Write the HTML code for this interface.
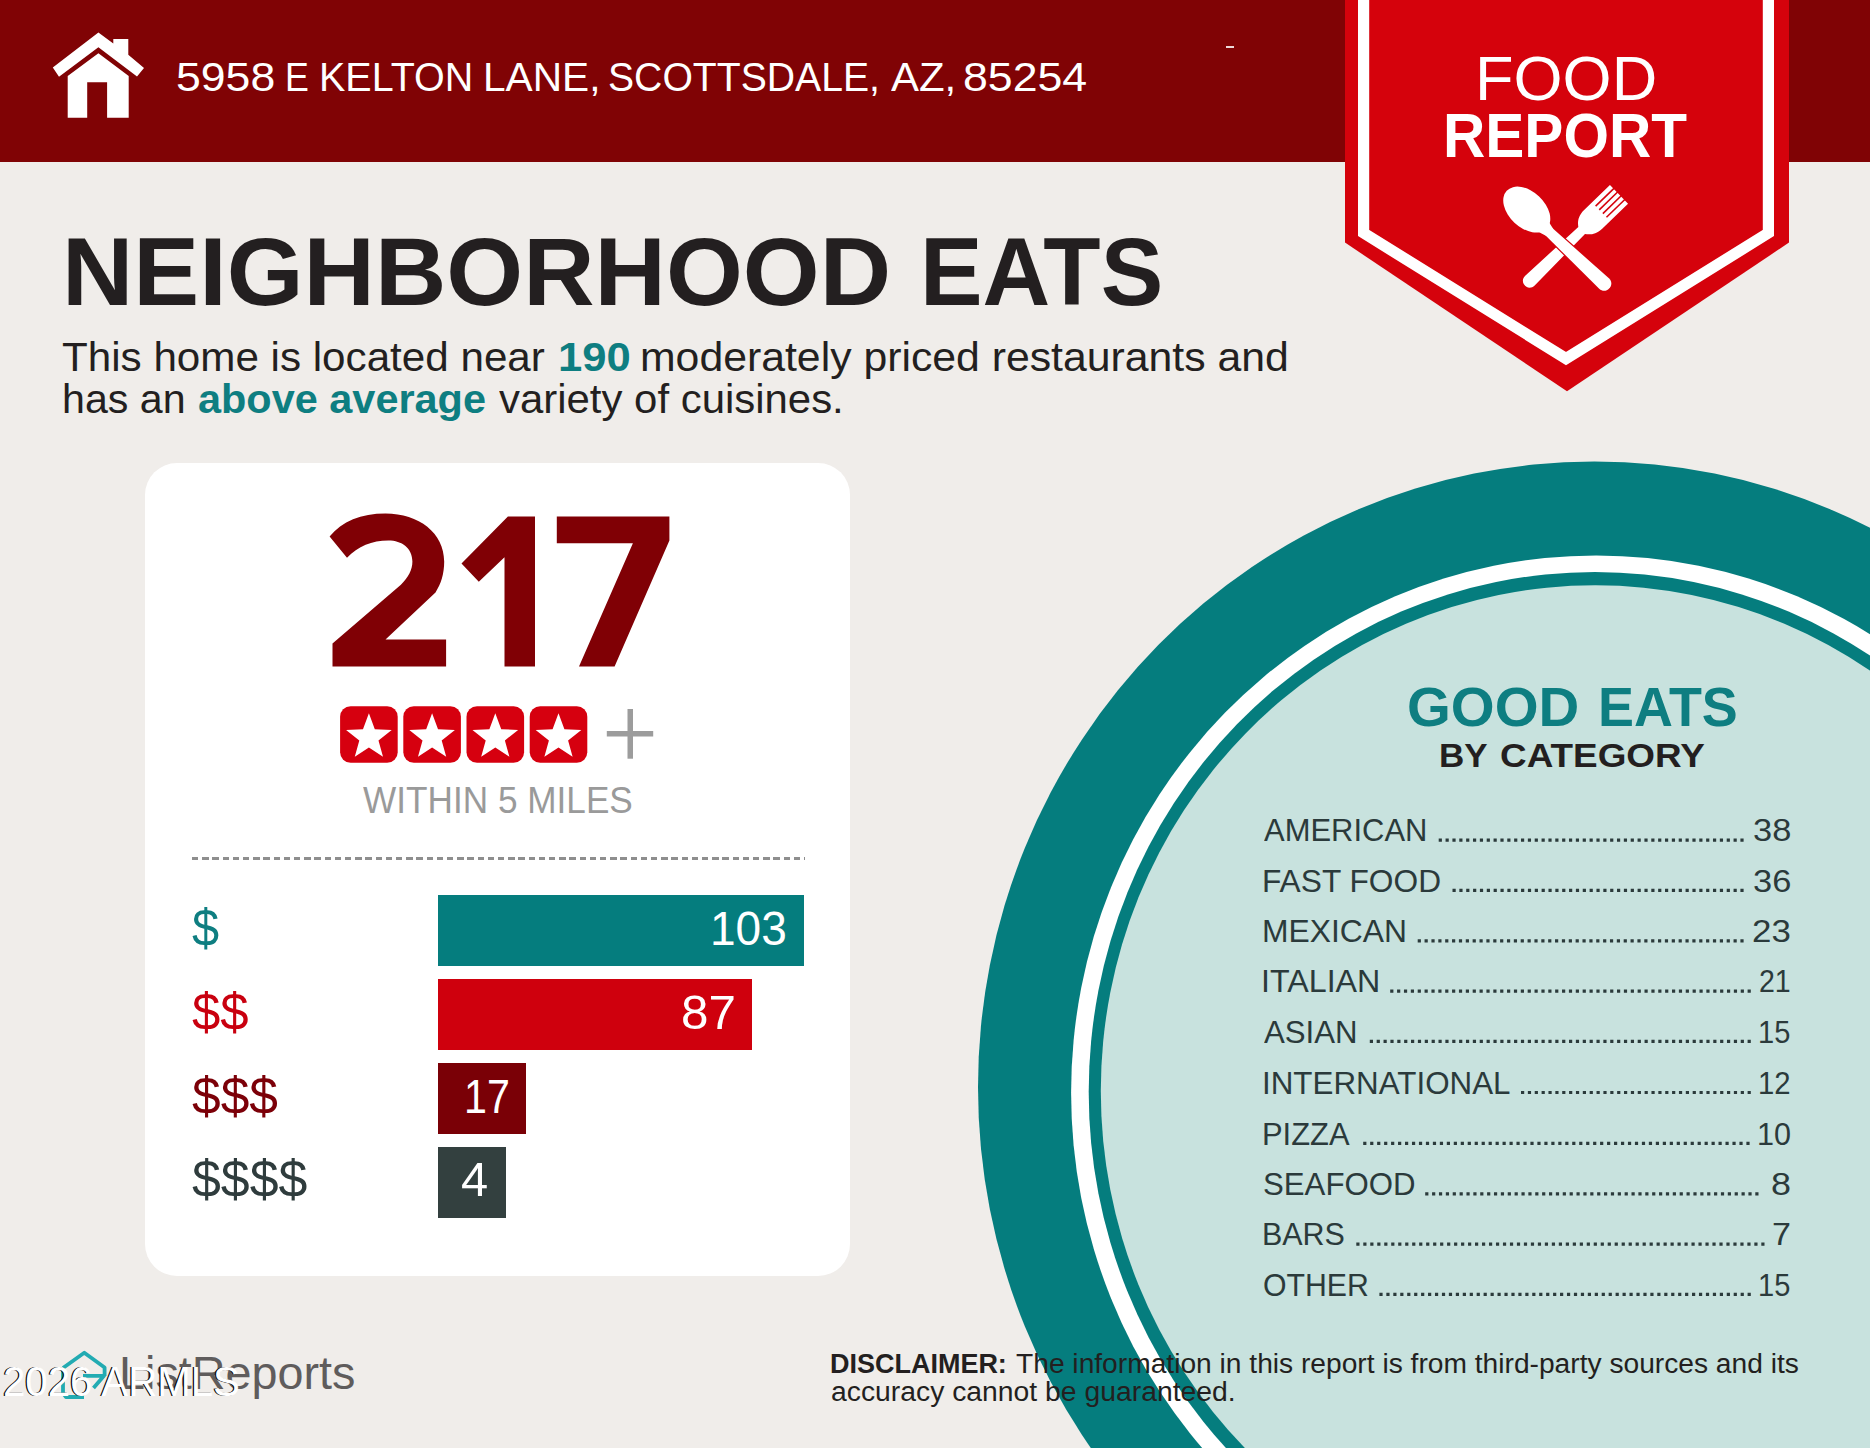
<!DOCTYPE html><html><head><meta charset="utf-8"><style>
html,body{margin:0;padding:0;}
body{width:1870px;height:1448px;overflow:hidden;position:relative;background:#F0EDEA;font-family:"Liberation Sans", sans-serif;}
.t{position:absolute;white-space:pre;transform-origin:0 0;}
.a{position:absolute;}
</style></head><body>

<div class="a" style="left:0;top:0;width:1870px;height:161.6px;background:#800305"></div>
<div class="a" style="left:1226px;top:46.3px;width:8px;height:1.5px;background:#fff;opacity:.85"></div>
<svg class="a" style="left:0;top:0" width="200" height="162" viewBox="0 0 200 162">
<polygon fill="#fff" points="98.4,32.4 113.3,43.6 113.3,39 128.3,39 128.3,54.8 144,68 137,76.4 98.4,47.3 59,76.8 52.8,67.6"/>
<polygon fill="#fff" points="98.4,53.2 128.7,76 128.7,117.8 107.1,117.8 107.1,82.2 87.2,82.2 87.2,117.8 67.7,117.8 67.7,76"/>
</svg>
<svg class="a" style="left:0;top:0" width="1870" height="1448" viewBox="0 0 1870 1448">
<ellipse cx="1594.3" cy="1087.2" rx="616.3" ry="625.6" fill="#057D7E"/>
<ellipse cx="1596.2" cy="1092.8" rx="525.1" ry="537.4" fill="#fff"/>
<ellipse cx="1594.9" cy="1092" rx="506.2" ry="520" fill="#057D7E"/>
<ellipse cx="1595.2" cy="1091.1" rx="494.4" ry="505.8" fill="#C8E2DE"/>
</svg>
<svg class="a" style="left:0;top:0" width="1870" height="400" viewBox="0 0 1870 400">
<polygon fill="#D5020C" points="1345,0 1789,0 1789,242.6 1567,391.2 1345,242.6"/>
<polyline fill="none" stroke="#fff" stroke-width="11.2" stroke-linejoin="miter" points="1363.6,0 1363.6,233 1566,358.6 1768.4,233 1768.4,0"/>
</svg>
<svg class="a" style="left:1480px;top:170px" width="170" height="130" viewBox="1480 170 170 130">
<g transform="translate(1619,194.3) rotate(45.9)">
<path fill="#fff" d="M-13,0 L13,0 L13,36 C13,46 7.5,50 4.8,52 L6.8,124 C6.8,133.5 -6.8,133.5 -6.8,124 L-4.8,52 C-7.5,50 -13,46 -13,36 Z"/>
<rect x="-8.60" y="-2" width="1.6" height="27" fill="#D5020C"/><rect x="-3.40" y="-2" width="1.6" height="27" fill="#D5020C"/><rect x="1.80" y="-2" width="1.6" height="27" fill="#D5020C"/><rect x="7.00" y="-2" width="1.6" height="27" fill="#D5020C"/>
</g>
<g transform="translate(1506.4,191.8) rotate(-46.8)" fill="#fff">
<path stroke="#D5020C" stroke-width="2.4" paint-order="stroke" d="M-4.8,50 L-7.1,134 C-7.1,143.5 7.1,143.5 7.1,134 L4.8,50 Z"/>
<ellipse cx="1" cy="27" rx="18" ry="27.5"/>
<path d="M-7.5,50 L7.5,50 L4.8,60 L-4.8,60 Z"/>
</g></svg>
<div class="t" style="left:176.02px;top:57.13px;font-size:40.84px;line-height:40.84px;font-weight:normal;color:#fff;transform:scaleX(1.0921);">5958</div>
<div class="t" style="left:285.36px;top:57.13px;font-size:40.84px;line-height:40.84px;font-weight:normal;color:#fff;transform:scaleX(0.8764);">E</div>
<div class="t" style="left:319.46px;top:57.13px;font-size:40.84px;line-height:40.84px;font-weight:normal;color:#fff;transform:scaleX(0.9667);">KELTON</div>
<div class="t" style="left:483.37px;top:57.13px;font-size:40.84px;line-height:40.84px;font-weight:normal;color:#fff;transform:scaleX(0.9954);">LANE,</div>
<div class="t" style="left:608.24px;top:57.13px;font-size:40.84px;line-height:40.84px;font-weight:normal;color:#fff;transform:scaleX(0.9591);">SCOTTSDALE,</div>
<div class="t" style="left:890.72px;top:57.13px;font-size:40.84px;line-height:40.84px;font-weight:normal;color:#fff;transform:scaleX(1.0269);">AZ,</div>
<div class="t" style="left:963.08px;top:57.13px;font-size:40.84px;line-height:40.84px;font-weight:normal;color:#fff;transform:scaleX(1.0936);">85254</div>
<div class="t" style="left:1474.83px;top:47.09px;font-size:62.50px;line-height:62.50px;font-weight:normal;color:#fff;transform:scaleX(1.0091);">FOOD</div>
<div class="t" style="left:1442.58px;top:104.86px;font-size:62.06px;line-height:62.06px;font-weight:bold;color:#fff;transform:scaleX(0.9437);">REPORT</div>
<div class="t" style="left:61.98px;top:223.01px;font-size:97.09px;line-height:97.09px;font-weight:bold;color:#231F20;transform:scaleX(1.0180);">NEIGHBORHOOD</div>
<div class="t" style="left:919.61px;top:223.01px;font-size:97.09px;line-height:97.09px;font-weight:bold;color:#231F20;transform:scaleX(0.9662);">EATS</div>
<div class="t" style="left:62.17px;top:337.94px;font-size:40.12px;line-height:40.12px;font-weight:normal;color:#231F20;transform:scaleX(1.0513);">This home is located near</div>
<div class="t" style="left:557.65px;top:337.94px;font-size:40.12px;line-height:40.12px;font-weight:bold;color:#0E7E81;transform:scaleX(1.0870);">190</div>
<div class="t" style="left:640.48px;top:337.94px;font-size:40.12px;line-height:40.12px;font-weight:normal;color:#231F20;transform:scaleX(1.0660);">moderately priced restaurants and</div>
<div class="t" style="left:62.06px;top:380.24px;font-size:40.12px;line-height:40.12px;font-weight:normal;color:#231F20;transform:scaleX(1.0265);">has an</div>
<div class="t" style="left:197.60px;top:380.24px;font-size:40.12px;line-height:40.12px;font-weight:bold;color:#0E7E81;transform:scaleX(1.0332);">above average</div>
<div class="t" style="left:498.77px;top:380.24px;font-size:40.12px;line-height:40.12px;font-weight:normal;color:#231F20;transform:scaleX(1.0450);">variety of cuisines.</div>
<div class="a" style="left:145px;top:463px;width:705px;height:813px;background:#fff;border-radius:32px"></div>
<svg class="a" style="left:0;top:0" width="870" height="800" viewBox="0 0 870 800"><g fill="#800005">
<path d="M329.6,536.6 C342,521 361,513.5 385.5,513.5 C419,513.5 444.2,533 444.2,561.6 C444.2,574 441,584 435.5,592.4 L385.5,639.6 L446.1,639.6 L446.1,666.5 L332.5,666.5 L332.5,643.4 L400.9,584.7 C408,578 412.4,570 412.4,561.6 C412.4,548 402,540.4 388.3,540.4 C372,540.4 358,546 347,557.8 Z"/>
<polygon points="507.9,516.4 535,516.4 535,666.5 504.5,666.5 504.5,557.2 478.8,581.8 461.5,563.5"/>
<polygon points="556.8,516.4 669.4,516.4 669.4,540.4 614.6,666.5 579,666.5 632.9,543.3 556.8,543.3"/>
</g></svg>
<svg class="a" style="left:0;top:0" width="870" height="800" viewBox="0 0 870 800"><rect x="340.1" y="706.2" width="57.6" height="56.6" rx="10.5" fill="#D6000F"/><polygon fill="#fff" points="368.90,713.30 374.82,729.15 391.73,729.88 378.49,740.41 383.01,756.72 368.90,747.38 354.79,756.72 359.31,740.41 346.07,729.88 362.98,729.15"/><rect x="403.3" y="706.2" width="57.6" height="56.6" rx="10.5" fill="#D6000F"/><polygon fill="#fff" points="432.10,713.30 438.02,729.15 454.93,729.88 441.69,740.41 446.21,756.72 432.10,747.38 417.99,756.72 422.51,740.41 409.27,729.88 426.18,729.15"/><rect x="466.5" y="706.2" width="57.6" height="56.6" rx="10.5" fill="#D6000F"/><polygon fill="#fff" points="495.30,713.30 501.22,729.15 518.13,729.88 504.89,740.41 509.41,756.72 495.30,747.38 481.19,756.72 485.71,740.41 472.47,729.88 489.38,729.15"/><rect x="529.7" y="706.2" width="57.6" height="56.6" rx="10.5" fill="#D6000F"/><polygon fill="#fff" points="558.50,713.30 564.42,729.15 581.33,729.88 568.09,740.41 572.61,756.72 558.50,747.38 544.39,756.72 548.91,740.41 535.67,729.88 552.58,729.15"/><rect x="627.5" y="709" width="5.5" height="49.7" fill="#9C9C9C"/><rect x="606.8" y="731" width="46.4" height="5.5" fill="#9C9C9C"/></svg>
<div class="t" style="left:363.36px;top:782.38px;font-size:37.35px;line-height:37.35px;font-weight:normal;color:#9A9A9A;transform:scaleX(0.9428);">WITHIN 5 MILES</div>
<div class="a" style="left:191.5px;top:857px;width:613.2px;height:2.7px;background:repeating-linear-gradient(90deg,#8E8E8E 0 6.4px,transparent 6.4px 10.2px)"></div>
<div class="a" style="left:437.5px;top:895.3px;width:366.5px;height:71px;background:#057D7E"></div>
<div class="t" style="left:710.20px;top:905.01px;font-size:47.24px;line-height:47.24px;font-weight:normal;color:#fff;transform:scaleX(0.9750);">103</div>
<div class="a" style="left:437.5px;top:979.2px;width:314.5px;height:71px;background:#CF000D"></div>
<div class="t" style="left:681.08px;top:988.91px;font-size:47.24px;line-height:47.24px;font-weight:normal;color:#fff;transform:scaleX(1.0450);">87</div>
<div class="a" style="left:437.5px;top:1063px;width:88.2px;height:71px;background:#7A0006"></div>
<div class="t" style="left:464.47px;top:1072.71px;font-size:47.24px;line-height:47.24px;font-weight:normal;color:#fff;transform:scaleX(0.8717);">17</div>
<div class="a" style="left:437.5px;top:1146.6px;width:68.0px;height:71px;background:#33403F"></div>
<div class="t" style="left:461.38px;top:1156.31px;font-size:47.24px;line-height:47.24px;font-weight:normal;color:#fff;transform:scaleX(1.0333);">4</div>
<div class="t" style="left:192.36px;top:902.03px;font-size:52.29px;line-height:52.29px;font-weight:normal;color:#0E7E81;transform:scaleX(0.9328);">$</div>
<div class="t" style="left:192.34px;top:985.83px;font-size:52.29px;line-height:52.29px;font-weight:normal;color:#C9000F;transform:scaleX(0.9730);">$$</div>
<div class="t" style="left:192.33px;top:1069.93px;font-size:52.29px;line-height:52.29px;font-weight:normal;color:#7C0008;transform:scaleX(0.9848);">$$$</div>
<div class="t" style="left:192.33px;top:1153.23px;font-size:52.29px;line-height:52.29px;font-weight:normal;color:#2F3C3D;transform:scaleX(0.9915);">$$$$</div>
<div class="t" style="left:1407.19px;top:679.90px;font-size:55.52px;line-height:55.52px;font-weight:bold;color:#0E7E81;transform:scaleX(1.0157);">GOOD</div>
<div class="t" style="left:1597.89px;top:679.90px;font-size:55.52px;line-height:55.52px;font-weight:bold;color:#0E7E81;transform:scaleX(0.9711);">EATS</div>
<div class="t" style="left:1438.66px;top:738.83px;font-size:33.87px;line-height:33.87px;font-weight:bold;color:#231F20;transform:scaleX(1.0333);">BY</div>
<div class="t" style="left:1500.39px;top:738.83px;font-size:33.87px;line-height:33.87px;font-weight:bold;color:#231F20;transform:scaleX(1.0890);">CATEGORY</div>
<div class="t" style="left:1264.34px;top:815.45px;font-size:31.25px;line-height:31.25px;font-weight:normal;color:#2B3A3B;transform:scaleX(0.9905);">AMERICAN</div>
<div class="t" style="left:1752.69px;top:815.45px;font-size:31.25px;line-height:31.25px;font-weight:normal;color:#2B3A3B;transform:scaleX(1.1018);">38</div>
<div class="t" style="left:1261.80px;top:865.75px;font-size:31.25px;line-height:31.25px;font-weight:normal;color:#2B3A3B;transform:scaleX(1.0141);">FAST FOOD</div>
<div class="t" style="left:1752.69px;top:865.75px;font-size:31.25px;line-height:31.25px;font-weight:normal;color:#2B3A3B;transform:scaleX(1.1029);">36</div>
<div class="t" style="left:1261.79px;top:916.15px;font-size:31.25px;line-height:31.25px;font-weight:normal;color:#2B3A3B;transform:scaleX(1.0183);">MEXICAN</div>
<div class="t" style="left:1752.26px;top:916.15px;font-size:31.25px;line-height:31.25px;font-weight:normal;color:#2B3A3B;transform:scaleX(1.1159);">23</div>
<div class="t" style="left:1261.43px;top:966.45px;font-size:31.25px;line-height:31.25px;font-weight:normal;color:#2B3A3B;transform:scaleX(1.0313);">ITALIAN</div>
<div class="t" style="left:1759.17px;top:966.45px;font-size:31.25px;line-height:31.25px;font-weight:normal;color:#2B3A3B;transform:scaleX(0.9129);">21</div>
<div class="t" style="left:1264.34px;top:1016.75px;font-size:31.25px;line-height:31.25px;font-weight:normal;color:#2B3A3B;transform:scaleX(0.9979);">ASIAN</div>
<div class="t" style="left:1758.39px;top:1016.75px;font-size:31.25px;line-height:31.25px;font-weight:normal;color:#2B3A3B;transform:scaleX(0.9304);">15</div>
<div class="t" style="left:1261.52px;top:1067.85px;font-size:31.25px;line-height:31.25px;font-weight:normal;color:#2B3A3B;transform:scaleX(1.0032);">INTERNATIONAL</div>
<div class="t" style="left:1758.37px;top:1067.85px;font-size:31.25px;line-height:31.25px;font-weight:normal;color:#2B3A3B;transform:scaleX(0.9379);">12</div>
<div class="t" style="left:1261.87px;top:1118.75px;font-size:31.25px;line-height:31.25px;font-weight:normal;color:#2B3A3B;transform:scaleX(0.9891);">PIZZA</div>
<div class="t" style="left:1756.68px;top:1118.75px;font-size:31.25px;line-height:31.25px;font-weight:normal;color:#2B3A3B;transform:scaleX(0.9789);">10</div>
<div class="t" style="left:1263.00px;top:1169.15px;font-size:31.25px;line-height:31.25px;font-weight:normal;color:#2B3A3B;transform:scaleX(0.9980);">SEAFOOD</div>
<div class="t" style="left:1771.05px;top:1169.15px;font-size:31.25px;line-height:31.25px;font-weight:normal;color:#2B3A3B;transform:scaleX(1.1506);">8</div>
<div class="t" style="left:1261.90px;top:1219.45px;font-size:31.25px;line-height:31.25px;font-weight:normal;color:#2B3A3B;transform:scaleX(0.9742);">BARS</div>
<div class="t" style="left:1772.26px;top:1219.45px;font-size:31.25px;line-height:31.25px;font-weight:normal;color:#2B3A3B;transform:scaleX(1.0901);">7</div>
<div class="t" style="left:1262.98px;top:1269.75px;font-size:31.25px;line-height:31.25px;font-weight:normal;color:#2B3A3B;transform:scaleX(0.9674);">OTHER</div>
<div class="t" style="left:1758.39px;top:1269.75px;font-size:31.25px;line-height:31.25px;font-weight:normal;color:#2B3A3B;transform:scaleX(0.9304);">15</div>
<svg class="a" style="left:0;top:0" width="1870" height="1448" viewBox="0 0 1870 1448"><line x1="1438.70" y1="840.10" x2="1743.60" y2="840.10" stroke="#2B3A3B" stroke-width="3.2" stroke-dasharray="3.2 3.657"/><line x1="1452.50" y1="890.40" x2="1743.60" y2="890.40" stroke="#2B3A3B" stroke-width="3.2" stroke-dasharray="3.2 3.655"/><line x1="1417.70" y1="940.80" x2="1743.60" y2="940.80" stroke="#2B3A3B" stroke-width="3.2" stroke-dasharray="3.2 3.666"/><line x1="1390.20" y1="991.10" x2="1750.80" y2="991.10" stroke="#2B3A3B" stroke-width="3.2" stroke-dasharray="3.2 3.673"/><line x1="1369.80" y1="1041.40" x2="1750.80" y2="1041.40" stroke="#2B3A3B" stroke-width="3.2" stroke-dasharray="3.2 3.669"/><line x1="1521.00" y1="1092.50" x2="1750.80" y2="1092.50" stroke="#2B3A3B" stroke-width="3.2" stroke-dasharray="3.2 3.667"/><line x1="1363.20" y1="1143.40" x2="1749.60" y2="1143.40" stroke="#2B3A3B" stroke-width="3.2" stroke-dasharray="3.2 3.767"/><line x1="1425.20" y1="1193.80" x2="1758.50" y2="1193.80" stroke="#2B3A3B" stroke-width="3.2" stroke-dasharray="3.2 3.677"/><line x1="1356.30" y1="1244.10" x2="1764.50" y2="1244.10" stroke="#2B3A3B" stroke-width="3.2" stroke-dasharray="3.2 3.783"/><line x1="1379.40" y1="1294.40" x2="1750.80" y2="1294.40" stroke="#2B3A3B" stroke-width="3.2" stroke-dasharray="3.2 3.747"/></svg>
<div class="t" style="left:830.19px;top:1350.39px;font-size:27.18px;line-height:27.18px;font-weight:bold;color:#231F20;transform:scaleX(0.9929);">DISCLAIMER:</div>
<div class="t" style="left:1015.88px;top:1350.39px;font-size:27.18px;line-height:27.18px;font-weight:normal;color:#231F20;transform:scaleX(1.0368);">The information in this report is from third-party sources and its</div>
<div class="t" style="left:830.81px;top:1378.49px;font-size:27.18px;line-height:27.18px;font-weight:normal;color:#231F20;transform:scaleX(1.0423);">accuracy cannot be guaranteed.</div>
<svg class="a" style="left:55px;top:1345px" width="60" height="60" viewBox="55 1345 60 60">
<g fill="none" stroke="#22ABB2" stroke-width="3.8" stroke-linejoin="round">
<polyline points="63,1368 84.3,1352.8 104.6,1367.5 104.6,1376"/>
<polyline points="63,1371 63,1393 66,1397 84,1397"/>
<polyline points="83,1375.8 104,1375.8 93.5,1388"/>
</g></svg>
<div class="t" style="left:119.17px;top:1350.40px;font-size:46.66px;line-height:46.66px;font-weight:normal;color:#5F5C5C;transform:scaleX(1.0022);">ListReports</div>
<div class="t" style="left:2.99px;top:1361.37px;font-size:41.86px;line-height:41.86px;font-weight:normal;color:#fff;transform:scaleX(0.9602);text-shadow:-1.3px 0 0 #000;">2026 ARMLS</div>
</body></html>
